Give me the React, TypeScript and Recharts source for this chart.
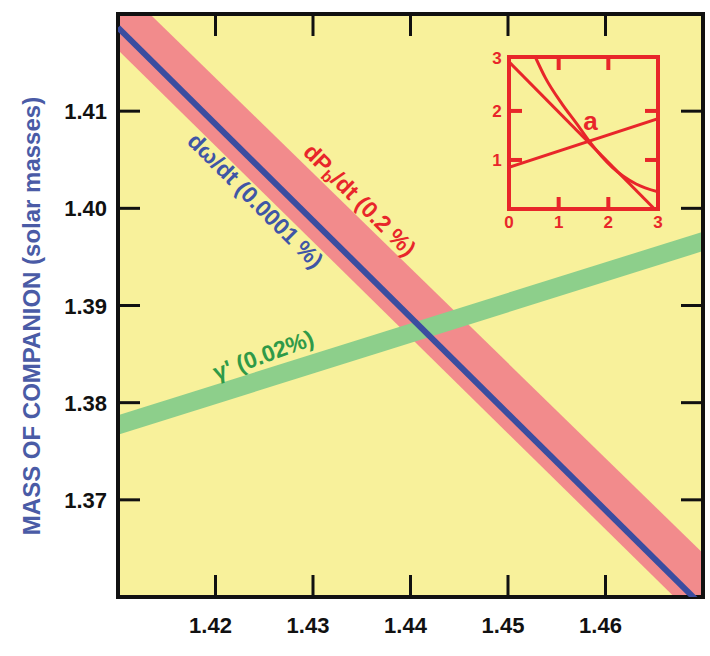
import React from "react";
import {
    ComposedChart, LineChart, Line, Area, XAxis, YAxis,
    CartesianGrid, ReferenceArea, ReferenceDot
} from "recharts";

const FONT = '"Liberation Sans", Arial, Helvetica, sans-serif';

// main panel: pulsar mass (x) vs companion mass (y), solar masses
const pulsarMass = [1.41, 1.47];
const pbdotLow = [1.4163, 1.3571];
const pbdotHigh = [1.4232, 1.3645];
const omdotMass = [1.4186, 1.359];
const gammaLow = [1.3767, 1.3956];
const gammaHigh = [1.3787, 1.3976];

const xTicks = [1.42, 1.43, 1.44, 1.45, 1.46];
const yTicks = [1.37, 1.38, 1.39, 1.4, 1.41];

// inset "a"
const insetTicks = [0, 1, 2, 3];
const steepX = [0, 2.93];
const steepY = [3.0, 0];
const shallowX = [0, 3];
const shallowY = [0.85, 1.84];
const curveX = [0.53, 0.73, 1.07, 1.37, 1.61, 2.08, 2.56, 3.0];
const curveY = [3.1, 2.68, 2.14, 1.73, 1.39, 0.85, 0.51, 0.35];

const mainData = pulsarMass.map((m, i) => ({
    m,
    pb: [pbdotLow[i], pbdotHigh[i]],
    om: omdotMass[i],
    ga: [gammaLow[i], gammaHigh[i]],
}));
const zip = (xs: number[], ys: number[]) => xs.map((x, i) => ({ x, y: ys[i] }));

const PLOT = { left: 118, right: 703, top: 14, bottom: 597 };
const INSET = { left: 30, right: 179, top: 15, bottom: 167 };

const YELLOW = "#f8f19b";
const PINK = "#f28b8c";
const GREEN = "#8dcf8b";
const BLUE = "#3b4da0";
const RED = "#e8262a";
const INK = "#111";

function XTick({ x, payload }: any) {
    return (
        <g>
            <line x1={x} x2={x} y1={PLOT.bottom} y2={PLOT.bottom - 22} stroke={INK} strokeWidth={3} />
            <line x1={x} x2={x} y1={PLOT.top} y2={PLOT.top + 22} stroke={INK} strokeWidth={3} />
            <text x={x - 5} y={633} textAnchor="middle" fontFamily={FONT} fontWeight="bold" fontSize={22} fill={INK}>
                {Number(payload.value).toFixed(2)}
            </text>
        </g>
    );
}

function YTick({ y, payload }: any) {
    return (
        <g>
            <line x1={PLOT.left} x2={PLOT.left + 22} y1={y} y2={y} stroke={INK} strokeWidth={3} />
            <line x1={PLOT.right} x2={PLOT.right - 22} y1={y} y2={y} stroke={INK} strokeWidth={3} />
            <text x={107} y={y + 8} textAnchor="end" fontFamily={FONT} fontWeight="bold" fontSize={22} fill={INK}>
                {Number(payload.value).toFixed(2)}
            </text>
        </g>
    );
}

function InsetXTick({ x, payload }: any) {
    const v = payload.value;
    return (
        <g>
            {v > 0 && v < 3 && (
                <>
                    <line x1={x} x2={x} y1={INSET.bottom} y2={INSET.bottom - 12} stroke={RED} strokeWidth={4} />
                    <line x1={x} x2={x} y1={INSET.top} y2={INSET.top + 13} stroke={RED} strokeWidth={4} />
                </>
            )}
            <text x={x} y={186} textAnchor="middle" fontFamily={FONT} fontWeight="bold" fontSize={17} fill={RED}>{v}</text>
        </g>
    );
}

function InsetYTick({ y, payload }: any) {
    const v = payload.value;
    if (v === 0) return null;
    return (
        <g>
            {v < 3 && (
                <>
                    <line x1={INSET.left} x2={INSET.left + 13} y1={y} y2={y} stroke={RED} strokeWidth={4} />
                    <line x1={INSET.right} x2={INSET.right - 13} y1={y} y2={y} stroke={RED} strokeWidth={4} />
                </>
            )}
            <text x={18} y={v === 3 ? y + 2 : y + 6} textAnchor="middle" fontFamily={FONT} fontWeight="bold" fontSize={17} fill={RED}>{v}</text>
        </g>
    );
}

function RotText({ cx, cy, angle, color, size, children }: any) {
    return (
        <text
            x={cx} y={cy}
            transform={`rotate(${angle} ${cx} ${cy})`}
            textAnchor="middle" dominantBaseline="central"
            fill={color} fontFamily={FONT} fontWeight="bold" fontSize={size}
        >
            {children}
        </text>
    );
}

function AxisTitle() {
    return (
        <text
            x={40} y={316} transform="rotate(-90 40 316)"
            textAnchor="middle" fill="#4a5ba6"
            fontFamily={FONT} fontWeight="bold" fontSize={24}
        >
            MASS OF COMPANION (solar masses)
        </text>
    );
}

export default function App() {
    return (
        <div style={{ position: "absolute", left: 0, top: 0, width: 710, height: 656, background: "#fff" }}>
            <ComposedChart
                width={710} height={656} data={mainData}
                margin={{ top: PLOT.top, right: 710 - PLOT.right, bottom: 19, left: 58 }}
            >
                <CartesianGrid horizontal={false} vertical={false} fill={YELLOW} />
                <XAxis
                    dataKey="m" type="number" domain={[1.41, 1.47]} ticks={xTicks}
                    allowDataOverflow axisLine={false} tickLine={false} height={40}
                    tick={<XTick />} interval={0}
                />
                <YAxis
                    type="number" domain={[1.36, 1.42]} ticks={yTicks}
                    allowDataOverflow axisLine={false} tickLine={false} width={60}
                    tick={<YTick />} interval={0} label={<AxisTitle />}
                />
                <Area
                    type="linear" dataKey="pb" stroke="none" fill={PINK} fillOpacity={1}
                    dot={false} activeDot={false} isAnimationActive={false}
                />
                <Area
                    type="linear" dataKey="ga" stroke="none" fill={GREEN} fillOpacity={1}
                    dot={false} activeDot={false} isAnimationActive={false}
                />
                <Line
                    type="linear" dataKey="om" stroke={BLUE} strokeWidth={6}
                    dot={false} activeDot={false} isAnimationActive={false}
                />
                <ReferenceArea
                    x1={1.41} x2={1.47} y1={1.36} y2={1.42}
                    fill="none" stroke={INK} strokeWidth={4} ifOverflow="visible"
                />
                <ReferenceDot
                    x={1.4241} y={1.4008} r={1} ifOverflow="visible"
                    shape={(p: any) => (
                        <RotText cx={p.cx} cy={p.cy} angle={45} color="#3f56a6" size={23}>dω/dt (0.0001 %)</RotText>
                    )}
                />
                <ReferenceDot
                    x={1.4348} y={1.40086} r={1} ifOverflow="visible"
                    shape={(p: any) => (
                        <RotText cx={p.cx} cy={p.cy} angle={45} color={RED} size={23}>
                            <tspan>dP</tspan>
                            <tspan fontSize={16} dy={6}>b</tspan>
                            <tspan dy={-6}>/dt (0.2 %)</tspan>
                        </RotText>
                    )}
                />
                <ReferenceDot
                    x={1.4249} y={1.3849} r={1} ifOverflow="visible"
                    shape={(p: any) => (
                        <RotText cx={p.cx} cy={p.cy} angle={-20} color="#2f9a48" size={23}>γ' (0.02%)</RotText>
                    )}
                />
            </ComposedChart>

            <div style={{ position: "absolute", left: 479, top: 42, width: 190, height: 195 }}>
                <LineChart
                    width={190} height={195}
                    margin={{ top: INSET.top, right: 190 - INSET.right, bottom: 8, left: 10 }}
                >
                    <XAxis
                        dataKey="x" type="number" domain={[0, 3]} ticks={insetTicks}
                        allowDataOverflow axisLine={false} tickLine={false} height={20}
                        tick={<InsetXTick />} interval={0}
                    />
                    <YAxis
                        type="number" domain={[0, 3.1]} ticks={insetTicks}
                        allowDataOverflow axisLine={false} tickLine={false} width={20}
                        tick={<InsetYTick />} interval={0}
                    />
                    <Line data={zip(steepX, steepY)} dataKey="y" type="linear" stroke={RED} strokeWidth={3}
                        dot={false} activeDot={false} isAnimationActive={false} />
                    <Line data={zip(shallowX, shallowY)} dataKey="y" type="linear" stroke={RED} strokeWidth={3}
                        dot={false} activeDot={false} isAnimationActive={false} />
                    <Line data={zip(curveX, curveY)} dataKey="y" type="monotone" stroke={RED} strokeWidth={3}
                        dot={false} activeDot={false} isAnimationActive={false} />
                    <ReferenceArea
                        x1={0} x2={3} y1={0} y2={3.1}
                        fill="none" stroke={RED} strokeWidth={4} ifOverflow="visible"
                    />
                    <ReferenceDot
                        x={1.64} y={1.8} r={1} ifOverflow="visible"
                        shape={(p: any) => (
                            <text x={p.cx} y={p.cy} textAnchor="middle" dominantBaseline="central"
                                fill={RED} fontFamily={FONT} fontWeight="bold" fontSize={26}>a</text>
                        )}
                    />
                </LineChart>
            </div>
        </div>
    );
}
